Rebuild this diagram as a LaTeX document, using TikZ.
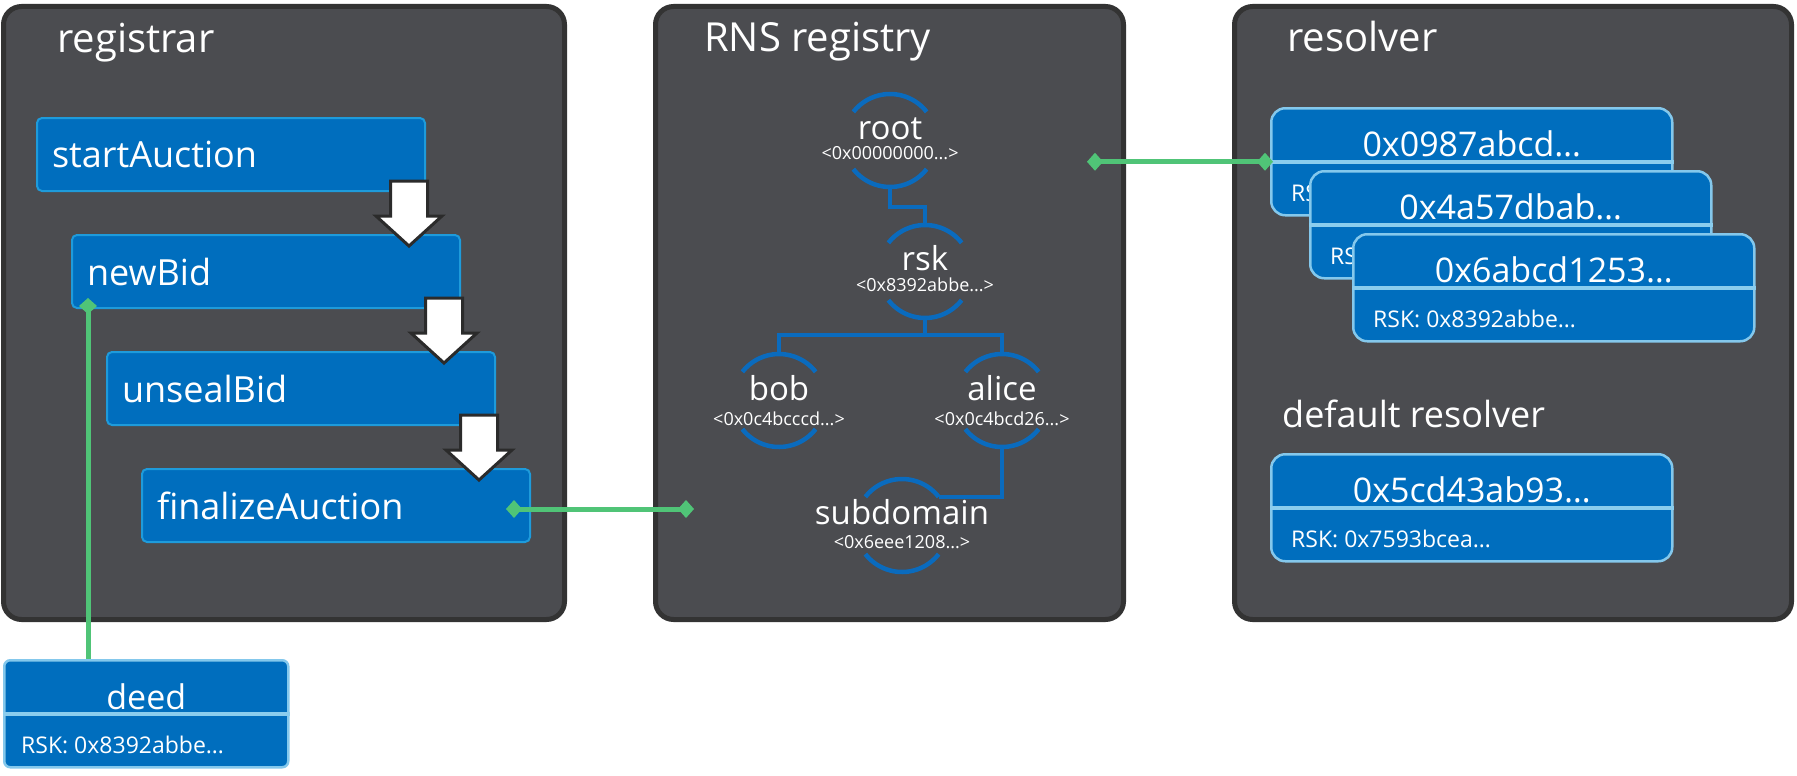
\documentclass[tikz,border=0pt]{standalone}
\usepackage{fontspec}
\setmainfont{Open Sans}
\usetikzlibrary{arrows.meta,calc,positioning}

\definecolor{panelbg}{HTML}{4B4C50}
\definecolor{panelrim}{HTML}{333333}
\definecolor{boxblue}{HTML}{006EBE}
\definecolor{boxrim}{HTML}{1E9BDB}
\definecolor{cardrim}{HTML}{84C8EC}
\definecolor{sepblue}{HTML}{8ACDEE}
\definecolor{treeblue}{HTML}{0A6BBE}
\definecolor{linkgreen}{HTML}{50C477}
\definecolor{arrowrim}{HTML}{2B2B2B}

\tikzset{
  panel/.style={draw=panelrim, fill=panelbg, line width=5pt, rounded corners=18pt, anchor=north west, inner sep=0pt, minimum height=613pt},
  paneltitle/.style={anchor=base west, text=white, inner sep=0pt, font=\fontsize{40}{48}\selectfont},
  funcbox/.style={draw=boxrim, fill=boxblue, line width=2pt, rounded corners=5pt, anchor=north west, minimum height=73pt, text width=358pt, inner xsep=15pt, inner ysep=0pt, align=left, text=white, font=\fontsize{36}{43}\selectfont},
  blockarrow/.style={draw=arrowrim, fill=white, line width=3pt},
  card/.style={draw=cardrim, fill=boxblue, line width=2.5pt, rounded corners=14pt, anchor=north west, minimum width=401pt, minimum height=107pt, inner sep=0pt},
  cardsep/.style={sepblue, line width=4.5pt},
  cardtitle/.style={anchor=base, text=white, inner sep=0pt, font=\fontsize{34}{40}\selectfont},
  cardsub/.style={anchor=base west, text=white, inner sep=0pt, font=\fontsize{23}{28}\selectfont},
  ensnode/.style={circle, minimum size=93pt, inner sep=0pt, outer sep=0pt},
  ensname/.style={anchor=base, text=white, inner sep=0pt, font=\fontsize{33}{40}\selectfont},
  ensaddr/.style={anchor=base, text=white, inner sep=0pt, font=\fontsize{18}{22}\selectfont},
  treeline/.style={treeblue, line width=4.5pt},
  link/.style={linkgreen, line width=5pt},
  gem/.tip={Diamond[length=16pt,width=18pt]},
}

\begin{document}
\begin{tikzpicture}[x=1pt,y=1pt]
  \useasboundingbox (0,0) rectangle (1797,-776);

  % the three contracts
  \node[panel, minimum width=561pt] (reg) at (1,-4) {};
  \node[panel, minimum width=468pt] (rns) at (653,-4) {};
  \node[panel, minimum width=557pt] (res) at (1232,-4) {};
  \node[paneltitle] (regtitle) at (57,-53) {registrar};
  \node[paneltitle] (rnstitle) at (704,-52) {RNS registry};
  \node[paneltitle] (restitle) at (1287,-52) {resolver};
  \node[paneltitle, font=\fontsize{36}{43}\selectfont] (deftitle) at (1282,-427) {default resolver};

  % auction steps
  \node[funcbox] (sa) at (36,-117) {startAuction};
  \node[funcbox] (nb) at ([shift={(35,-117)}]sa.north west) {newBid};
  \node[funcbox] (us) at ([shift={(35,-117)}]nb.north west) {unsealBid};
  \node[funcbox] (fa) at ([shift={(35,-117)}]us.north west) {finalizeAuction};
  \foreach \b in {sa,nb,us}
    \draw[blockarrow] ($(\b.south east)+(-35.5,11)$) -- ++(37,0) -- ++(0,-35) -- ++(14.5,0)
      -- ++(-33,-30) -- ++(-33,30) -- ++(14.5,0) -- cycle;

  % deed
  \node[card, minimum width=284pt, rounded corners=6pt] (deed) at (3,-659) {};
  \node[cardtitle] (deedname) at ([yshift=4]deed.center) {deed};
  \node[cardsub] (deedsub) at ([shift={(18,-40)}]deed.west) {RSK: 0x8392abbe…};
  \draw[cardsep] (deed.west) -- (deed.east);

  % name tree
  \node[ensnode] (root) at (890,-140.5) {};
  \node[ensname] (rootname) at ([yshift=1]root.center) {root};
  \node[ensaddr] (rootaddr) at ([yshift=-19]root.center) {<0x00000000...>};
  \node[ensnode] (rsk) at (925,-271.5) {};
  \node[ensname] (rskname) at ([yshift=1]rsk.center) {rsk};
  \node[ensaddr] (rskaddr) at ([yshift=-20]rsk.center) {<0x8392abbe...>};
  \node[ensnode] (bob) at (779,-400.5) {};
  \node[ensname] (bobname) at ([yshift=0]bob.center) {bob};
  \node[ensaddr] (bobaddr) at ([yshift=-25]bob.center) {<0x0c4bcccd...>};
  \node[ensnode] (alice) at (1002,-400.5) {};
  \node[ensname] (alicename) at ([yshift=0]alice.center) {alice};
  \node[ensaddr] (aliceaddr) at ([yshift=-25]alice.center) {<0x0c4bcd26...>};
  \node[ensnode] (sd) at (902,-525.5) {};
  \node[ensname] (sdname) at ([yshift=1]sd.center) {subdomain};
  \node[ensaddr] (sdaddr) at ([yshift=-23]sd.center) {<0x6eee1208...>};
  \foreach \n in {root,rsk,bob,alice,sd} {
    \draw[treeline] (\n.38) arc[start angle=38, end angle=142, radius=46.5pt];
    \draw[treeline] (\n.218) arc[start angle=218, end angle=322, radius=46.5pt];
  }
  \draw[treeline] (root.south) -- ++(0,-20) -| (rsk.north);
  \draw[treeline] (rsk.south) -- ++(0,-17) coordinate (bus);
  \draw[treeline] (bob.north) |- (bus) -| (alice.north);
  \draw[treeline] (alice.south) |- (sd.38);

  % resolvers
  \node[card] (c1) at (1270,-107) {};
  \node[cardtitle] (c1name) at ([yshift=5]c1.center) {0x0987abcd…};
  \node[cardsub] (c1sub) at ([shift={(21,-40)}]c1.west) {RSK:};
  \draw[cardsep] (c1.west) -- (c1.east);
  \node[card] (c2) at ([shift={(39,-63)}]c1.north west) {};
  \node[cardtitle] (c2name) at ([yshift=5]c2.center) {0x4a57dbab…};
  \node[cardsub] (c2sub) at ([shift={(21,-40)}]c2.west) {RSK:};
  \draw[cardsep] (c2.west) -- (c2.east);
  \node[card] (c3) at ([shift={(43,-63)}]c2.north west) {};
  \node[cardtitle] (c3name) at ([yshift=5]c3.center) {0x6abcd1253…};
  \node[cardsub] (c3sub) at ([shift={(21,-40)}]c3.west) {RSK: 0x8392abbe…};
  \draw[cardsep] (c3.west) -- (c3.east);
  \node[card] (dflt) at (1270,-453) {};
  \node[cardtitle] (dfltname) at ([yshift=5]dflt.center) {0x5cd43ab93…};
  \node[cardsub] (dfltsub) at ([shift={(21,-40)}]dflt.west) {RSK: 0x7593bcea…};
  \draw[cardsep] (dflt.west) -- (dflt.east);

  % green links
  \coordinate (nbpin) at ($(nb.south west)+(17,11)$);
  \coordinate (faout) at ($(fa.east)+(-25,-3.5)$);
  \coordinate (rnsin) at (694,0 |- faout);
  \coordinate (rnsout) at (1087,0 |- c1.west);
  \draw[link, gem-] (nbpin) -- (nbpin |- deed.north);
  \draw[link, gem-gem] (faout) -- (rnsin);
  \draw[link, gem-gem] (rnsout) -- ([xshift=3]c1.west);
\end{tikzpicture}
\end{document}
